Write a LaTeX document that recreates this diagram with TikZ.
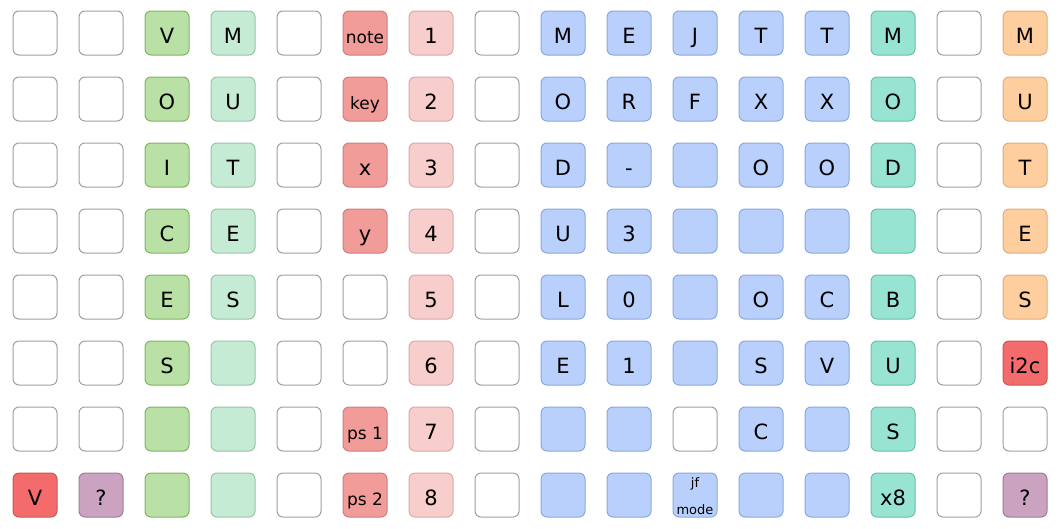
\documentclass[tikz,border=0pt]{standalone}
\usepackage{fontspec}
\setmainfont{DejaVu Sans}
\definecolor{wS}{HTML}{A0A0A0}
\definecolor{gF}{HTML}{B9E0A5}\definecolor{gS}{HTML}{82B366}
\definecolor{lgF}{HTML}{C6EBD5}\definecolor{lgS}{HTML}{9AC4A8}
\definecolor{rdF}{HTML}{F19C99}\definecolor{rdS}{HTML}{CC7F7F}
\definecolor{pkF}{HTML}{F8CECC}\definecolor{pkS}{HTML}{D9A9A7}
\definecolor{blF}{HTML}{B9D0FC}\definecolor{blS}{HTML}{8CA9D9}
\definecolor{tlF}{HTML}{97E4D3}\definecolor{tlS}{HTML}{6CBFAA}
\definecolor{orF}{HTML}{FFCE9F}\definecolor{orS}{HTML}{E0AF7F}
\definecolor{rrF}{HTML}{F36B6B}\definecolor{rrS}{HTML}{C95757}
\definecolor{puF}{HTML}{CBA2BF}\definecolor{puS}{HTML}{A07D96}
\tikzset{
  cell/.style={draw, rounded corners=6pt, minimum width=44pt, minimum height=44pt,
    inner sep=0pt, text height=20pt, text depth=0pt, line width=1pt,
    font=\fontsize{21}{25}\selectfont},
  smallfont/.style={font=\fontsize{17}{20}\selectfont},
  tinyfont/.style={font=\fontsize{13}{16}\selectfont, inner sep=0pt},
  cw/.style={fill=white, draw=wS},
  cg/.style={fill=gF, draw=gS},
  clg/.style={fill=lgF, draw=lgS},
  crd/.style={fill=rdF, draw=rdS},
  crs/.style={fill=rdF, draw=rdS, smallfont},
  cpk/.style={fill=pkF, draw=pkS},
  cbl/.style={fill=blF, draw=blS},
  ctl/.style={fill=tlF, draw=tlS},
  cor/.style={fill=orF, draw=orS},
  crr/.style={fill=rrF, draw=rrS},
  cpu/.style={fill=puF, draw=puS},
}
\newcommand\mkcellrow[2]{%
  \foreach \s/\t [count=\c] in {#2} {%
    \node[cell,\s] (c-#1-\c) at ({35+66*(\c-1)},{33+66*(#1-1)}) {\t};
  }%
}
\begin{document}
\begin{tikzpicture}[x=1pt,y=-1pt]
\useasboundingbox[fill=white] (0,0) rectangle (1059,528);
\mkcellrow{1}{cw/{},cw/{},cg/V,clg/M,cw/{},crs/note,cpk/1,cw/{},cbl/M,cbl/E,cbl/J,cbl/T,cbl/T,ctl/M,cw/{},cor/M}
\mkcellrow{2}{cw/{},cw/{},cg/O,clg/U,cw/{},crs/key,cpk/2,cw/{},cbl/O,cbl/R,cbl/F,cbl/X,cbl/X,ctl/O,cw/{},cor/U}
\mkcellrow{3}{cw/{},cw/{},cg/I,clg/T,cw/{},crd/x,cpk/3,cw/{},cbl/D,cbl/-,cbl/{},cbl/O,cbl/O,ctl/D,cw/{},cor/T}
\mkcellrow{4}{cw/{},cw/{},cg/C,clg/E,cw/{},crd/y,cpk/4,cw/{},cbl/U,cbl/3,cbl/{},cbl/{},cbl/{},ctl/{},cw/{},cor/E}
\mkcellrow{5}{cw/{},cw/{},cg/E,clg/S,cw/{},cw/{},cpk/5,cw/{},cbl/L,cbl/0,cbl/{},cbl/O,cbl/C,ctl/B,cw/{},cor/S}
\mkcellrow{6}{cw/{},cw/{},cg/S,clg/{},cw/{},cw/{},cpk/6,cw/{},cbl/E,cbl/1,cbl/{},cbl/S,cbl/V,ctl/U,cw/{},crr/i2c}
\mkcellrow{7}{cw/{},cw/{},cg/{},clg/{},cw/{},crs/ps 1,cpk/7,cw/{},cbl/{},cbl/{},cw/{},cbl/C,cbl/{},ctl/S,cw/{},cw/{}}
\mkcellrow{8}{crr/V,cpu/?,cg/{},clg/{},cw/{},crs/ps 2,cpk/8,cw/{},cbl/{},cbl/{},cbl/{},cbl/{},cbl/{},ctl/x8,cw/{},cpu/?}
\node[tinyfont, anchor=base] (jf) at ([yshift=8pt]c-8-11.center) {jf};
\node[tinyfont, anchor=base] (mode) at ([yshift=-19pt]c-8-11.center) {mode};
\end{tikzpicture}
\end{document}
